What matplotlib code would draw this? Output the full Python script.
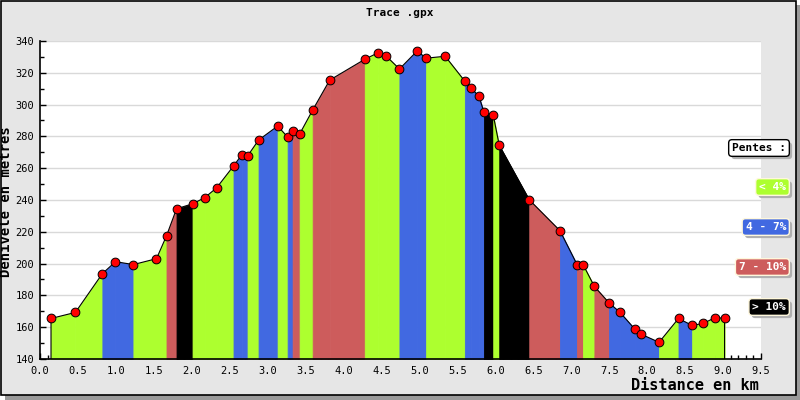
import matplotlib
matplotlib.use("Agg")
import matplotlib.pyplot as plt
import matplotlib.patheffects as pe
from matplotlib.patches import Rectangle
from matplotlib.ticker import MultipleLocator

# track profile: distance (km) and elevation (m) at each recorded point
dist = [0.145, 0.466, 0.822, 0.994, 1.231, 1.535, 1.667, 1.799, 2.010, 2.168,
        2.326, 2.550, 2.656, 2.735, 2.880, 3.131, 3.263, 3.329, 3.421, 3.593,
        3.817, 4.279, 4.450, 4.560, 4.736, 4.969, 5.088, 5.339, 5.598, 5.682,
        5.783, 5.849, 5.972, 6.051, 6.447, 6.851, 7.076, 7.155, 7.305, 7.498,
        7.643, 7.841, 7.925, 8.157, 8.413, 8.593, 8.738, 8.900, 9.020]
elev = [165.5, 169.3, 193.7, 201.2, 199.4, 203.1, 217.5, 234.5, 237.6, 241.4,
        247.6, 261.4, 268.3, 267.7, 277.7, 286.5, 279.6, 283.4, 281.5, 296.6,
        315.4, 328.5, 332.5, 330.6, 322.4, 333.7, 329.2, 330.4, 314.7, 310.3,
        305.3, 295.3, 293.4, 274.4, 240.1, 220.7, 199.4, 199.4, 185.6, 175.3,
        169.3, 158.6, 155.5, 150.5, 165.5, 161.1, 162.4, 166.1, 165.5]

# slope class of each segment between two points, as drawn
# G: < 4%, B: 4 - 7%, R: 7 - 10%, K: > 10%
seg_class = ["G", "G", "B", "B", "G", "G", "R", "K", "G", "G",
             "G", "B", "B", "G", "B", "G", "B", "R", "G", "R",
             "R", "G", "G", "G", "B", "B", "G", "G", "B", "B",
             "B", "K", "G", "K", "R", "B", "R", "G", "R", "B",
             "B", "B", "B", "G", "B", "G", "G", "G"]

legend_keys = ["G", "B", "R", "K"]
legend_labels = ["< 4%", "4 - 7%", "7 - 10%", "> 10%"]
colors = {"G": "#adff2f", "B": "#4169e1", "R": "#cd5c5c", "K": "#000000"}

y_min, y_max = 140, 340

mono = "DejaVu Sans Mono"
plt.rcParams["font.family"] = mono

fig = plt.figure(figsize=(8, 4), dpi=100, facecolor="white")

# framed grey panel with a small drop shadow
fig.patches.append(Rectangle((5 / 800, 0), 795 / 800, 395 / 400,
                             transform=fig.transFigure, fc="#9a9a9a",
                             ec="none", zorder=-3))
fig.patches.append(Rectangle((0.5 / 800, 5 / 400), 795 / 800, 394.5 / 400,
                             transform=fig.transFigure, fc="#e6e6e6",
                             ec="black", lw=1.2, zorder=-2))

ax = fig.add_axes([40 / 800, 41 / 400, 721 / 800, 318 / 400])
ax.set_facecolor("white")

for i, c in enumerate(seg_class):
    ax.fill_between(dist[i:i + 2], elev[i:i + 2], y_min,
                    color=colors[c], lw=0.6, ec=colors[c], zorder=2)

ax.plot([dist[0]] + dist + [dist[-1]], [y_min] + elev + [y_min],
        color="black", lw=0.8, zorder=3)
ax.plot(dist, elev, ls="none", marker="o", ms=6.3, mfc="#ff0000",
        mec="black", mew=0.7, zorder=4, clip_on=False)

ax.set_xlim(0, 9.5)
ax.set_ylim(y_min, y_max)
ax.xaxis.set_major_locator(MultipleLocator(0.5))
ax.xaxis.set_minor_locator(MultipleLocator(0.1))
ax.yaxis.set_major_locator(MultipleLocator(20))
ax.yaxis.set_minor_locator(MultipleLocator(10))
ax.xaxis.set_major_formatter(lambda v, p: f"{v:.1f}")
ax.grid(axis="y", which="major", color="#d9d9d9", lw=1, zorder=1)
ax.set_axisbelow(True)

for s in ["top", "right"]:
    ax.spines[s].set_visible(False)
for s in ["left", "bottom"]:
    ax.spines[s].set_linewidth(1.2)
    ax.spines[s].set_zorder(5)

ax.tick_params(which="both", direction="in", color="black", width=1,
               labelsize=7.5)
ax.tick_params(which="major", length=4)
ax.tick_params(which="minor", length=3)
ax.tick_params(axis="y", pad=4)
ax.tick_params(axis="x", pad=5)

fig.text(0.5, 1 - 13 / 400, "Trace .gpx", ha="center", va="center",
         fontsize=8, fontweight="bold")
fig.text(6.5 / 800, 0.496, "Dénivelé en metres", rotation=90, ha="center",
         va="center", fontsize=10, fontweight="bold")
fig.text(759 / 800, 1 - 386 / 400, "Distance en km", ha="right",
         va="center", fontsize=11, fontweight="bold")

# slope legend on the right
shadow = [pe.SimplePatchShadow(offset=(2, -2), shadow_rgbFace="#b0b0b0",
                               alpha=1), pe.Normal()]


def tag(y_px, label, fc, ec, tc):
    t = fig.text(786 / 800, 1 - y_px / 400, label, ha="right", va="center",
                 fontsize=8, fontweight="bold", color=tc,
                 bbox=dict(boxstyle="round,pad=0.3", fc=fc, ec=ec, lw=1))
    t.get_bbox_patch().set_path_effects(shadow)


tag(148, "Pentes :", "white", "black", "black")
for k, (key, lab) in enumerate(zip(legend_keys, legend_labels)):
    tag(187 + 40 * k, lab, colors[key], "#fff8dc", "white")

fig.savefig("out.png", dpi=100)
